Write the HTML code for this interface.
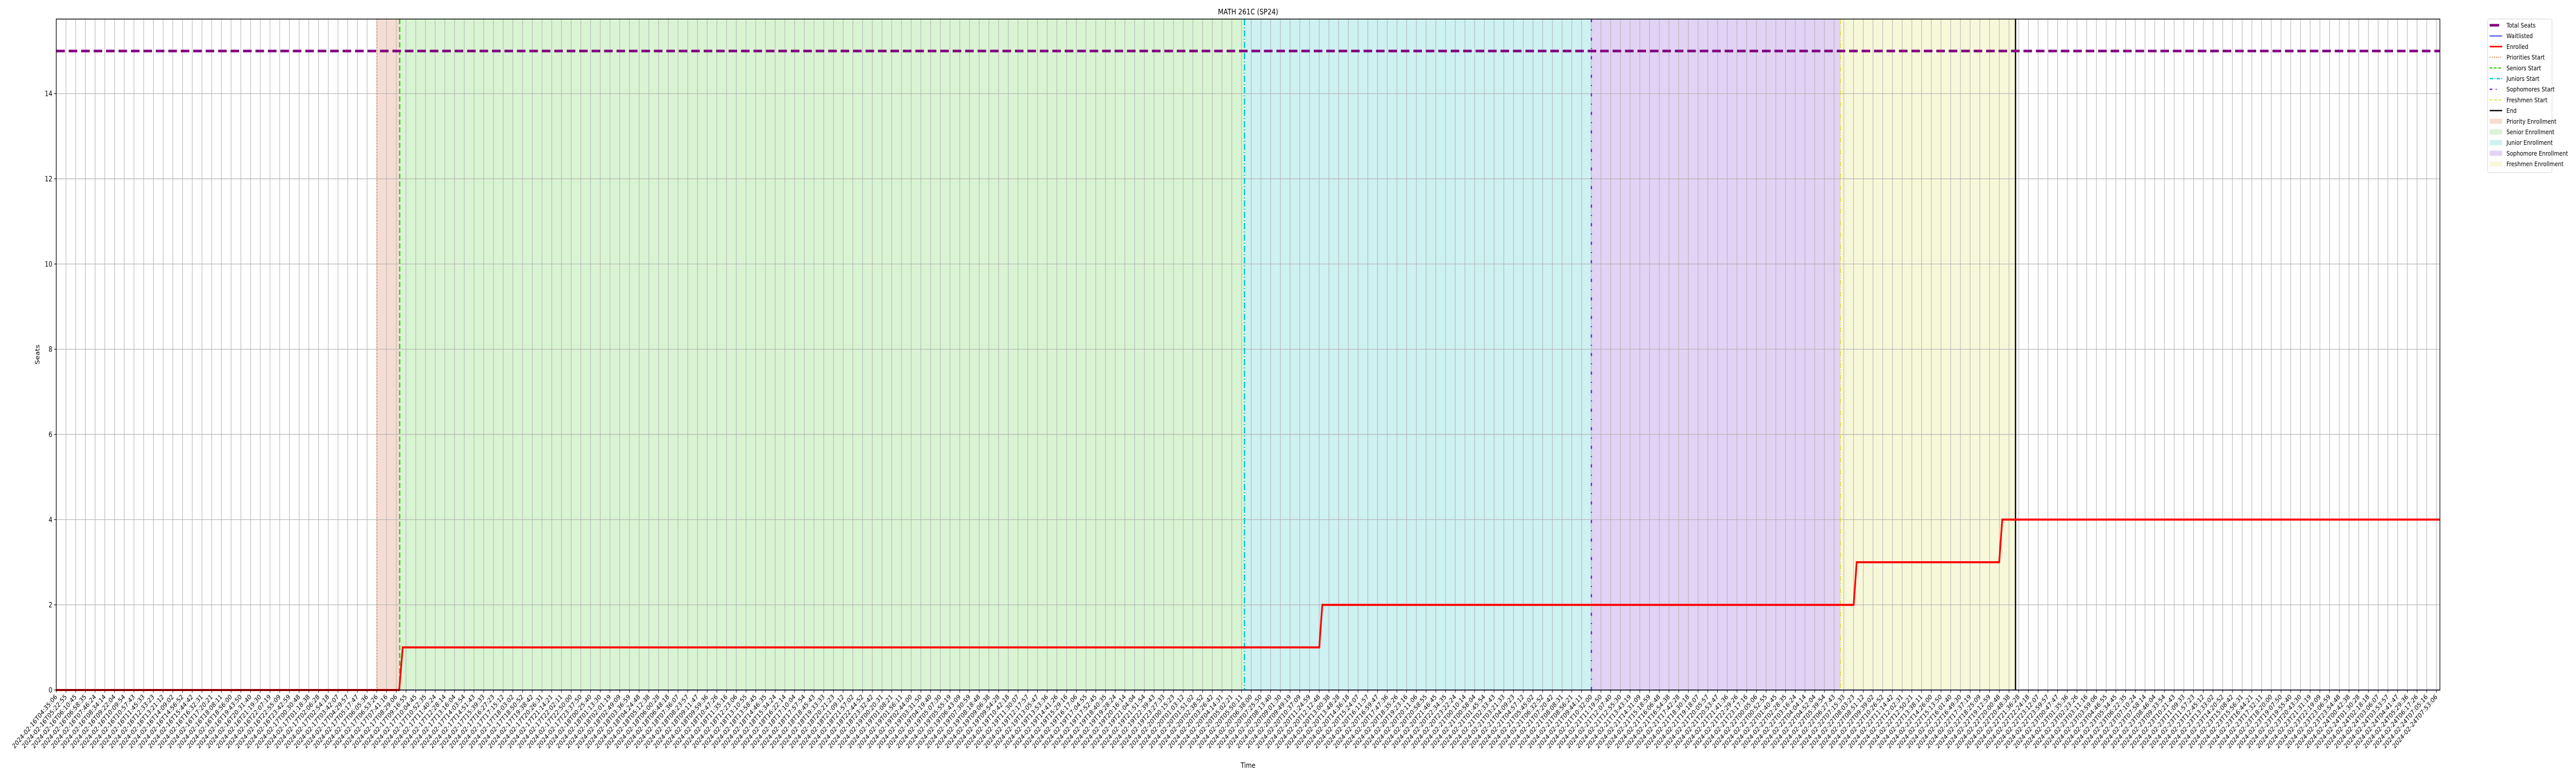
<!DOCTYPE html>
<html><head><meta charset="utf-8">
<style>
html,body{margin:0;padding:0;background:#fff;width:100%;height:100%;overflow:hidden;}
svg{display:block;position:absolute;left:0;top:0;width:100vw;height:100vh;font-family:"DejaVu Sans","Liberation Sans",sans-serif;}
</style></head>
<body>
<svg id="chart" xmlns="http://www.w3.org/2000/svg" viewBox="0 0 6000 1500" preserveAspectRatio="none">
<rect width="6000" height="1500" fill="#fff"/>
<g id="regions"></g>
<g id="grid"></g>
<g id="vlines"></g>
<g id="series"></g>
<g id="axes"></g>
<text x="2907" y="28" font-size="15" text-anchor="middle">MATH 261C (SP24)</text>
<text x="2907" y="1490" font-size="14" text-anchor="middle">Time</text>
<text x="0" y="0" font-size="14" text-anchor="middle" transform="translate(92,688) rotate(-90)">Seats</text>
<g id="legend"></g>
</svg>
<script>
// ---- data (hours since 2024-02-16T04:35:06) ----
const startTime = "2024-02-16T04:35:06";
const tickCount = 246;
const lastTickHours = 195.3;
const yTicks = [0, 2, 4, 6, 8, 10, 12, 14];
const totalSeats = 15;
const enrolledHours = [0, 28.14, 28.43, 103.63, 103.88, 147.48, 147.73, 159.42, 159.67, 195.57];
const enrolledValues = [0, 0, 1, 1, 2, 2, 3, 3, 4, 4];
const waitlistHours = [0, 195.57];
const waitlistValues = [0, 0];
const eventNames = ["Priorities Start", "Seniors Start", "Juniors Start", "Sophomores Start", "Freshmen Start", "End"];
const eventHours = [26.31, 28.18, 97.50, 125.96, 146.39, 160.76];

// ---- scales ----
const X0 = 131, X1 = 5683, Y0 = 1339, Y1 = 37;
const yMax = 15.75;
const pxPerHour = (5675 - 131) / lastTickHours;
function xs(h){ return X0 + h * pxPerHour; }
function ys(v){ return Y0 - v / yMax * (Y0 - Y1); }
const NS = "http://www.w3.org/2000/svg";
function mk(tag, attrs, parent){
  const e = document.createElementNS(NS, tag);
  for (const k in attrs) e.setAttribute(k, attrs[k]);
  parent.appendChild(e); return e;
}
const gR = document.getElementById('regions'), gG = document.getElementById('grid'),
      gV = document.getElementById('vlines'), gS = document.getElementById('series'),
      gA = document.getElementById('axes'), gL = document.getElementById('legend');

// regions
const regionNames = ["priority-enrollment-region","senior-enrollment-region","junior-enrollment-region","sophomore-enrollment-region","freshmen-enrollment-region"];
const regionColors = ["#f6ddd3","#d9f4d2","#cef1f2","#e0d3f4","#f7f8d9"];
for (let i = 0; i < 5; i++){
  const r = mk('rect', {x: xs(eventHours[i]), y: Y1, width: xs(eventHours[i+1]) - xs(eventHours[i]), height: Y0 - Y1, fill: regionColors[i]}, gR);
  
  
}

// grid + ticks
const base = new Date(startTime + "Z").getTime();
function pad(n){ return String(n).padStart(2, '0'); }
function fmt(ms){ const d = new Date(ms); return d.getUTCFullYear()+"-"+pad(d.getUTCMonth()+1)+"-"+pad(d.getUTCDate())+"T"+pad(d.getUTCHours())+":"+pad(d.getUTCMinutes())+":"+pad(d.getUTCSeconds()); }
for (let i = 0; i < tickCount; i++){
  const h = i * lastTickHours / (tickCount - 1);
  const x = xs(h);
  const gl = mk('line', {x1: x, x2: x, y1: Y1, y2: Y0, stroke: '#b0b0b0', 'stroke-width': 1.2}, gG);
  
  
  const tk = mk('line', {x1: x, x2: x, y1: Y0, y2: Y0 + 5, stroke: '#000', 'stroke-width': 1.2}, gA);
  
  
  const t = mk('text', {x: 0, y: 0, 'font-size': 13, 'text-anchor': 'end', transform: 'translate(' + (x + 3) + ',' + (Y0 + 14) + ') rotate(-45)'}, gA);
  t.textContent = fmt(base + h * 3600000);
  
  
}
yTicks.forEach(v => {
  const y = ys(v);
  const gl = mk('line', {x1: X0, x2: X1, y1: y, y2: y, stroke: '#b0b0b0', 'stroke-width': 1.2}, gG);
  
  
  const tk = mk('line', {x1: X0 - 5, x2: X0, y1: y, y2: y, stroke: '#000', 'stroke-width': 1.2}, gA);
  
  
  const t = mk('text', {x: X0 - 9, y: y + 5, 'font-size': 14, 'text-anchor': 'end'}, gA);
  t.textContent = v;
  
  
});

// event lines
const evColors = ["#e8743b","#33cc11","#00c8d2","#6a22dd","#dede33","#000"];
const evDash = ["2,4","10,5","12,4,2,4","6,14,2,14","10,3,2,3,2,3",""];
const evWidth = [2, 3, 3, 3, 2, 3];
for (let i = 0; i < eventHours.length; i++){
  const x = xs(eventHours[i]);
  const attrs = {x1: x, x2: x, y1: Y1, y2: Y0, stroke: evColors[i], 'stroke-width': evWidth[i]};
  if (evDash[i]) attrs['stroke-dasharray'] = evDash[i];
  const l = mk('line', attrs, gV);
  
  
}

// series
function pts(hs, vs){ return hs.map((h, i) => xs(h).toFixed(1) + ',' + ys(vs[i]).toFixed(1)).join(' '); }
const wl = mk('polyline', {points: pts(waitlistHours, waitlistValues), fill: 'none', stroke: '#0000ff', 'stroke-width': 1.5}, gS);


const ts = mk('line', {x1: X0, x2: X1, y1: ys(totalSeats), y2: ys(totalSeats), stroke: '#800080', 'stroke-width': 5, 'stroke-dasharray': '20,9'}, gS);


const en = mk('polyline', {points: pts(enrolledHours, enrolledValues), fill: 'none', stroke: '#ff0000', 'stroke-width': 4, 'stroke-linejoin': 'miter'}, gS);



// axes frame
const fr = mk('rect', {x: X0, y: Y1, width: X1 - X0, height: Y0 - Y1, fill: 'none', stroke: '#000', 'stroke-width': 1.5}, gA);



// legend
const lgLabels = ["Total Seats","Waitlisted","Enrolled","Priorities Start","Seniors Start","Juniors Start","Sophomores Start","Freshmen Start","End","Priority Enrollment","Senior Enrollment","Junior Enrollment","Sophomore Enrollment","Freshmen Enrollment"];
const LX = 5794, LY = 37, LH = 20.7;
const box = mk('rect', {x: LX, y: LY, width: 150, height: 298, rx: 3, fill: '#fff', 'fill-opacity': 0.8, stroke: '#d0d0d0', 'stroke-width': 1}, gL);


const lineStyles = [
  {stroke: '#800080', w: 5, d: ''}, {stroke: '#0000ff', w: 1.5, d: ''}, {stroke: '#ff0000', w: 3, d: ''},
  {stroke: evColors[0], w: 2, d: '2,3'}, {stroke: evColors[1], w: 2.5, d: '6,4'}, {stroke: evColors[2], w: 2.5, d: '8,3,2,3'},
  {stroke: evColors[3], w: 2.5, d: '6,8,2,20'}, {stroke: evColors[4], w: 2, d: '5,2,2,2'}, {stroke: '#000', w: 2.5, d: ''}
];
for (let i = 0; i < lgLabels.length; i++){
  const cy = LY + 12 + i * LH;
  const g = mk('g', {}, gL);
  
  
  if (i < 9){
    const s = lineStyles[i];
    const a = {x1: LX + 5, x2: LX + 34, y1: cy, y2: cy, stroke: s.stroke, 'stroke-width': s.w};
    if (s.d) a['stroke-dasharray'] = s.d;
    if (i === 0) a.x2 = LX + 27;
    mk('line', a, g);
  } else {
    mk('rect', {x: LX + 5, y: cy - 5, width: 29, height: 10, fill: regionColors[i - 9]}, g);
  }
  const t = mk('text', {x: LX + 44, y: cy + 4.5, 'font-size': 12.5}, g);
  t.textContent = lgLabels[i];
}
</script>
</body></html>
